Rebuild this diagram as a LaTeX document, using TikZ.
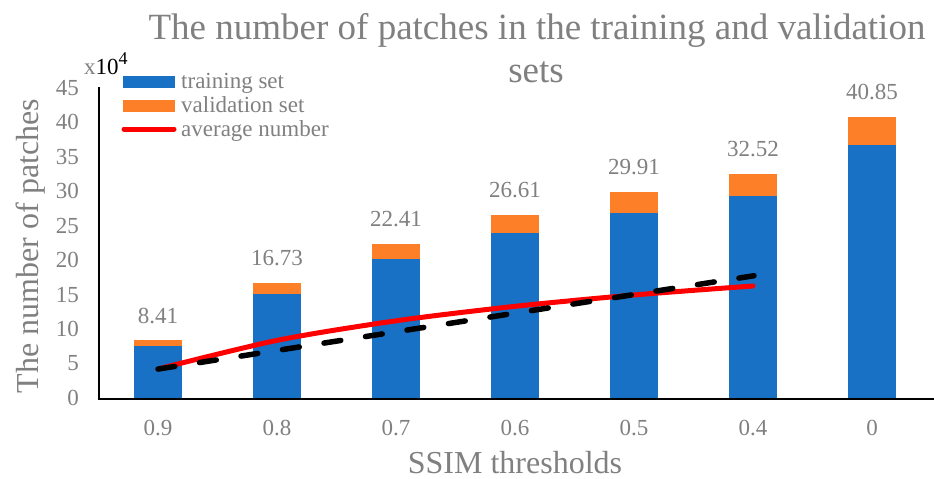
\documentclass[tikz,border=0pt]{standalone}
\usepackage{fontspec}
\setmainfont{Liberation Serif}
\definecolor{barblue}{RGB}{24,113,197}
\definecolor{barorange}{RGB}{253,128,40}
\definecolor{txtgray}{RGB}{128,128,128}
\tikzset{
  axisline/.style={draw=black, line width=2pt},
  trainbar/.style={fill=barblue, draw=none},
  valbar/.style={fill=barorange, draw=none},
  avgline/.style={draw=red, line width=5pt, line cap=round, line join=round},
  trendline/.style={draw=black, line width=5.5pt, line cap=round, dash pattern=on 17pt off 25pt},
  ticklabel/.style={text=txtgray, inner sep=0pt, font=\fontsize{23}{27}\selectfont},
  datalabel/.style={text=txtgray, inner sep=0pt, anchor=base, font=\fontsize{23}{27}\selectfont},
  legendtext/.style={text=txtgray, inner sep=0pt, anchor=base west, font=\fontsize{23}{27}\selectfont},
  titletext/.style={text=txtgray, inner sep=0pt, anchor=base, font=\fontsize{37}{40}\selectfont},
  axistitle/.style={text=txtgray, inner sep=0pt, anchor=base, font=\fontsize{32}{36}\selectfont},
}
\begin{document}
\begin{tikzpicture}[x=1pt,y=-1pt]
\useasboundingbox (0,0) rectangle (934,479);
% title
\node[titletext] (title1) at (537,39.3) {The number of patches in the training and validation};
\node[titletext] (title2) at (536,82) {sets};
% data area
\begin{scope}[shift={(0,398)}, y=6.889pt]
  \foreach \cx/\tot [count=\i] in {158/8.41, 277/16.73, 396/22.41, 515/26.61, 634/29.91, 753/32.52, 872/40.85} {
    \pgfmathsetmacro{\tr}{0.9*\tot}
    \fill[trainbar] (\cx-24,0) rectangle (\cx+24,\tr);
    \fill[valbar] (\cx-24,\tr) rectangle (\cx+24,\tot);
    \node[datalabel] (val\i) at ([yshift=17pt]\cx,\tot) {\tot};
  }
  \draw[avgline] plot[smooth, tension=0.5] coordinates {(158,4.205) (277,8.365) (396,11.205) (515,13.305) (634,14.955) (753,16.26)};
  \coordinate (trendA) at (158,4.2);
  \coordinate (trendB) at (754,17.75);
  \draw[trendline] (trendA) -- (trendB);
\end{scope}
% axes
\draw[axisline] (98.5,87) -- (98.5,399.5);
\draw[axisline] (97.5,398.5) -- (934,398.5);
% y ticks
\foreach \v [count=\i] in {0,5,...,45} {
  \node[ticklabel, anchor=east] (ytick\i) at (79,{398-6.889*\v}) {\v};
}
% x ticks
\foreach \cx/\lab [count=\i] in {158/0.9, 277/0.8, 396/0.7, 515/0.6, 634/0.5, 753/0.4, 872/0} {
  \node[ticklabel, anchor=base] (xtick\i) at (\cx,435) {\lab};
}
% axis titles
\node[axistitle] (xtitle) at (515,473) {SSIM thresholds};
\node[axistitle, rotate=90] (ytitle) at (38,246) {The number of patches};
% multiplier
\node[inner sep=0pt, anchor=base west, font=\fontsize{23}{26}\selectfont] (mult) at (84,74) {\textcolor{txtgray}{x}10\raisebox{0.42em}{\fontsize{18}{20}\selectfont 4}};
% legend
\fill[trainbar] (123,76) rectangle (175,88);
\node[legendtext] (legtrain) at (181,88.5) {training set};
\fill[valbar] (123,100) rectangle (175,112);
\node[legendtext] (legval) at (181,112.5) {validation set};
\coordinate (legavgA) at (124,129);
\coordinate (legavgB) at (174,129);
\draw[avgline] (legavgA) -- (legavgB);
\node[legendtext] (legavg) at (181,136.5) {average number};
\end{tikzpicture}
\end{document}
